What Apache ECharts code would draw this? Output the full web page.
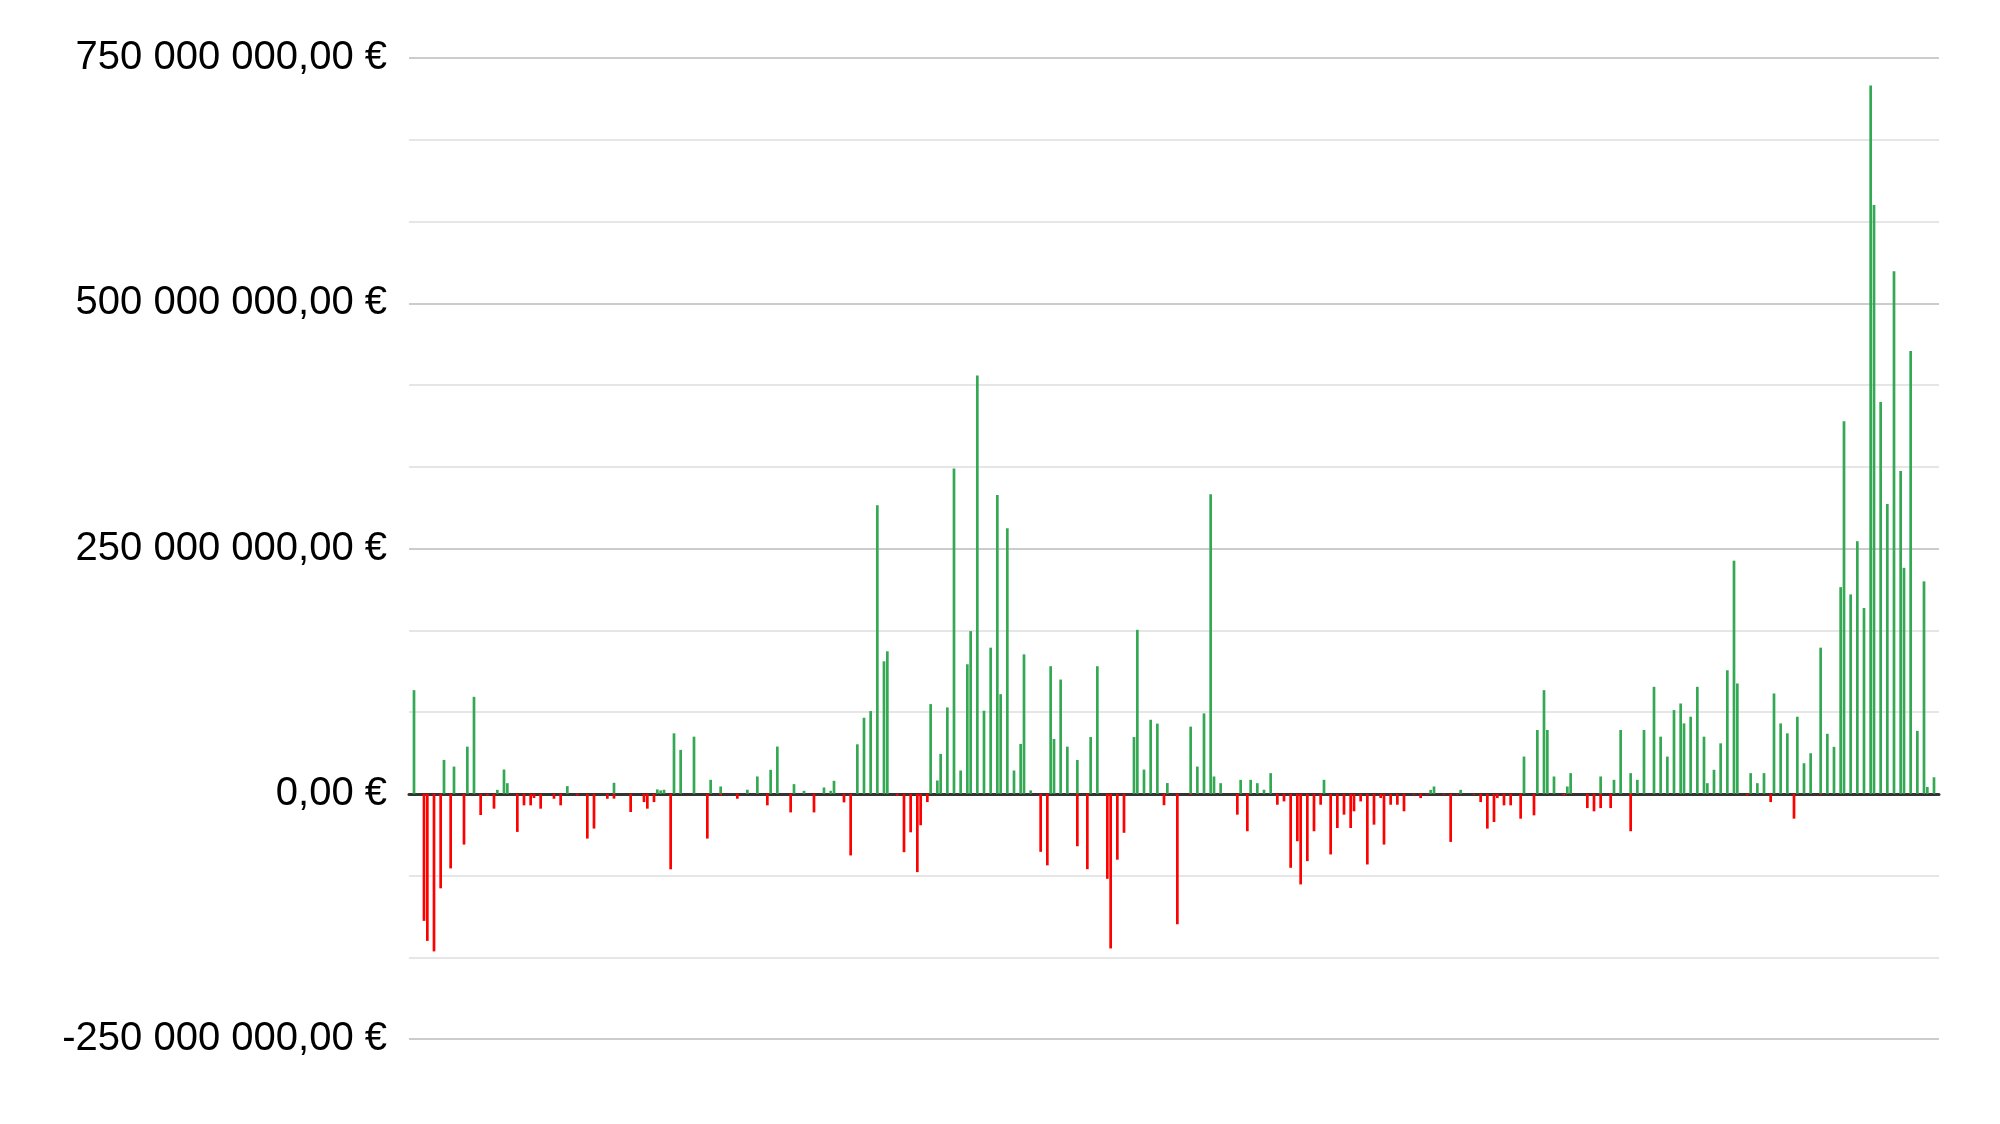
<!DOCTYPE html>
<html>
<head>
<meta charset="utf-8">
<script src="https://cdn.jsdelivr.net/npm/echarts@6/dist/echarts.min.js"></script>
<style>
html,body{margin:0;padding:0;background:#fff;}
#chart{width:2000px;height:1124px;}
</style>
</head>
<body>
<div id="chart"></div>
<script>
// Number of category slots on the x axis (slot numbers 0..458)
const slotCount = 459;

// Positive values, in millions of euros: [slot, value]
const gains = [
[1,105.6],[10,34.5],[13,27.7],[17,48],[19,98.8],[26,4],[28,24.7],[29,10.8],[47,7.8],[61,11.2],
[74,4.4],[75,3.4],[76,4.1],[79,61.6],[81,44.7],[85,58.2],[90,14.2],[93,7.4],[101,4.1],[104,17.6],
[108,24.4],[110,48.1],[115,9.8],[118,3],[124,6.4],[126,3],[127,13.2],[134,50.4],[136,77.5],[138,84.3],
[140,294],[142,135],[143,145.2],[156,91.4],[158,13.5],[159,40.6],[161,88],[163,331.6],[165,23.7],[167,132],
[168,165.8],[170,426.4],[172,84.6],[174,148.9],[176,304.6],[177,101.5],[179,270.7],[181,23.7],[183,50.8],[184,142.1],
[186,3.4],[192,130],[193,55.8],[195,116.4],[197,48],[200,34.4],[204,57.8],[206,130],[217,57.8],[218,167.1],
[220,24.6],[222,75.4],[224,71.5],[227,10.9],[234,68.4],[236,27.7],[238,81.9],[240,305.2],[241,17.6],[243,10.8],
[249,14.2],[252,14.2],[254,10.8],[256,4.1],[258,21],[274,14.2],[306,4],[307,7.4],[315,4],[334,37.9],
[338,65],[340,105.6],[341,65],[343,17.6],[347,7.4],[348,21],[357,17.6],[361,14.2],[363,65],[366,21],
[368,14.2],[370,65],[373,109],[375,58.2],[377,37.9],[379,85.3],[381,92],[382,71.7],[384,78.5],[386,109],
[388,58.2],[389,10.8],[391,24.4],[393,51.4],[395,125.9],[397,237.6],[398,112.4],[402,21],[404,10.8],[406,21],
[409,102.2],[411,71.7],[413,61.6],[416,78.5],[418,31.1],[420,41.3],[423,148.9],[425,61.1],[427,47.8],[429,210.6],
[430,379.7],[432,203.2],[434,257.4],[436,189.3],[438,721.9],[439,600.1],[441,399.4],[443,295.4],[445,532.5],[447,328.9],
[448,230.3],[450,451.2],[452,64.1],[454,216.5],[455,6.9],[457,16.8]
];

// Negative values, in millions of euros: [slot, value]
const losses = [
[4,-129.6],[5,-150],[7,-160.7],[9,-96.4],[12,-76.1],[16,-51.8],[21,-21.7],[23,-2],[25,-15.2],[32,-38.9],
[34,-11.8],[36,-11.8],[37,-4.4],[39,-15.2],[43,-5.1],[45,-11.8],[50,-1.7],[53,-45.7],[55,-35.5],[59,-5.1],
[61,-5],[66,-18.6],[70,-8.5],[71,-15.2],[73,-8.5],[78,-77],[89,-45.7],[93,-1.7],[98,-5.1],[107,-11.8],
[114,-19],[121,-19],[130,-8.8],[132,-62.9],[146,-2],[148,-59.6],[150,-39.3],[152,-79.9],[153,-32.1],[155,-8.5],
[189,-59.2],[191,-73],[200,-53.5],[203,-76.9],[209,-86.7],[210,-157.7],[212,-67.2],[214,-39.8],[226,-11.7],[230,-133],
[234,-1],[248,-21.3],[251,-38.2],[260,-11.2],[262,-7.8],[264,-75.5],[266,-48.4],[267,-92.4],[269,-68.7],[271,-38.2],
[273,-11.2],[276,-61.9],[278,-34.9],[280,-21.3],[282,-34.9],[283,-17.9],[285,-7.8],[287,-72.1],[289,-31.5],[291,-4.4],
[292,-51.8],[294,-11.2],[296,-11.2],[298,-17.9],[301,-1],[303,-4.4],[305,-1],[310,-1],[312,-49.1],[314,-1],
[319,-1],[321,-8.5],[323,-35.5],[325,-28.8],[326,-4.4],[328,-11.8],[330,-11.8],[333,-25.4],[337,-22],[346,-1.7],
[353,-14.6],[355,-17.9],[357,-14.6],[360,-14.6],[366,-38.2],[401,-1.7],[408,-8.5],[415,-25.4],[423,-1]
];

// Y axis tick values (millions of euros)
const yTicks = [-250, 0, 250, 500, 750];

const categories = [];
for (let i = 0; i < slotCount; i++) categories.push(String(i));
function toSeries(pairs) {
  const arr = new Array(slotCount).fill('-');
  pairs.forEach(p => { arr[p[0]] = p[1]; });
  return arr;
}

function fmtEuro(vMillions) {
  const v = Math.round(vMillions * 1e6);
  const s = Math.abs(v).toFixed(0).replace(/\B(?=(\d{3})+(?!\d))/g, ' ');
  return (v < 0 ? '-' : '') + s + ',00 €';
}

const chart = echarts.init(document.getElementById('chart'), null, {renderer: 'canvas'});
chart.setOption({
  backgroundColor: '#ffffff',
  animation: false,
  grid: {left: 409, right: 61, top: 58, bottom: 85, containLabel: false},
  xAxis: {
    type: 'category',
    data: categories,
    boundaryGap: true,
    axisLine: {show: true, onZero: true, lineStyle: {color: '#333333', width: 3}},
    axisTick: {show: false},
    axisLabel: {show: false},
    splitLine: {show: false}
  },
  yAxis: {
    type: 'value',
    min: yTicks[0],
    max: yTicks[yTicks.length - 1],
    interval: 250,
    axisLine: {show: false},
    axisTick: {show: false},
    axisLabel: {
      margin: 22,
      color: '#000000',
      fontFamily: 'Liberation Sans, Arial, sans-serif',
      fontSize: 40,
      formatter: fmtEuro
    },
    splitLine: {show: true, lineStyle: {color: '#cccccc', width: 2}},
    minorTick: {show: false, splitNumber: 3},
    minorSplitLine: {show: true, lineStyle: {color: '#e6e6e6', width: 2}}
  },
  series: [
    {
      name: 'Gains', type: 'bar', stack: 'net', barWidth: 2.7,
      itemStyle: {color: '#34a853'},
      data: toSeries(gains)
    },
    {
      name: 'Losses', type: 'bar', stack: 'net', barWidth: 2.7,
      itemStyle: {color: '#ff0000'},
      data: toSeries(losses)
    }
  ]
});
</script>
</body>
</html>
